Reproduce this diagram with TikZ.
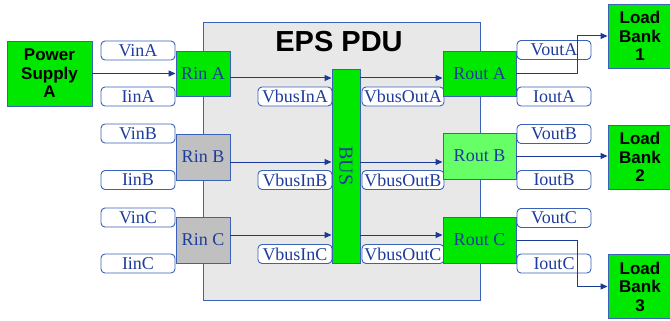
\documentclass[tikz,border=0pt]{standalone}
\usepackage{fontspec}
\setmainfont{Liberation Serif}
\newfontfamily\headfont{Liberation Sans}
\usetikzlibrary{arrows.meta}

\definecolor{pdugray}{HTML}{E8E8E8}
\definecolor{edgeblue}{HTML}{3A62B8}
\definecolor{textblue}{HTML}{1E3C9C}
\definecolor{wireblue}{HTML}{1A3A96}
\definecolor{boxgreen}{HTML}{00E800}
\definecolor{palegreen}{HTML}{66FF66}
\definecolor{boxgray}{HTML}{C0C0C0}

\begin{document}
\begin{tikzpicture}[x=1pt, y=-1pt,
  tag/.style={draw=edgeblue, fill=white, rounded corners=4pt, line width=0.9pt,
    minimum width=74pt, minimum height=19pt, inner sep=0pt, text=textblue,
    font=\fontsize{18}{18}\selectfont},
  rbox/.style={draw=edgeblue, fill=boxgreen, line width=0.9pt, inner sep=0pt,
    minimum height=46pt, text=textblue, font=\fontsize{18}{18}\selectfont},
  ext/.style={draw=edgeblue, fill=boxgreen, line width=0.9pt, inner sep=0pt,
    align=center, font=\headfont\bfseries\fontsize{17}{18.5}\selectfont},
  wire/.style={draw=wireblue, line width=1pt,
    -{Triangle[length=7pt, width=6pt]}}]

  \useasboundingbox (0,0) rectangle (670,321);

  % PDU enclosure
  \draw[edgeblue, fill=pdugray, line width=0.9pt] (203,22) rectangle (480,300);
  \node[font=\headfont\bfseries\fontsize{29}{30}\selectfont] (title) at (339,42) {EPS PDU};

  % source and loads
  \node[ext, minimum width=85pt, minimum height=65pt] (ps) at (49.5,73.5) {Power\\Supply\\A};
  \node[ext, minimum width=64pt, minimum height=64pt] (lb1) at (640,36) {Load\\Bank\\1};
  \node[ext, minimum width=64pt, minimum height=64pt] (lb2) at (640,157) {Load\\Bank\\2};
  \node[ext, minimum width=64pt, minimum height=64pt] (lb3) at (640,286.5) {Load\\Bank\\3};

  % input tags
  \node[tag] (vina) at (138,50.5) {VinA};
  \node[tag] (iina) at (138,96.5) {IinA};
  \node[tag] (vinb) at (138,133.5) {VinB};
  \node[tag] (iinb) at (138,180) {IinB};
  \node[tag] (vinc) at (138,217.5) {VinC};
  \node[tag] (iinc) at (138,263.5) {IinC};

  % bus tags
  \node[tag] (vbina) at (295,96.5) {VbusInA};
  \node[tag] (vbinb) at (295,180) {VbusInB};
  \node[tag] (vbinc) at (295,254) {VbusInC};
  \node[tag, minimum width=82pt] (vbouta) at (403,96.5) {VbusOutA};
  \node[tag, minimum width=82pt] (vboutb) at (403,180) {VbusOutB};
  \node[tag, minimum width=82pt] (vboutc) at (403,254) {VbusOutC};

  % output tags
  \node[tag] (vouta) at (554,50) {VoutA};
  \node[tag] (iouta) at (554,96.5) {IoutA};
  \node[tag] (voutb) at (554,134) {VoutB};
  \node[tag] (ioutb) at (554,180) {IoutB};
  \node[tag] (voutc) at (554,218) {VoutC};
  \node[tag] (ioutc) at (554,263.5) {IoutC};

  % regulators
  \node[rbox, minimum width=54pt, minimum height=45pt] (rina) at (203,73.5) {Rin A};
  \node[rbox, minimum width=54pt, fill=boxgray] (rinb) at (203,157) {Rin B};
  \node[rbox, minimum width=54pt, fill=boxgray] (rinc) at (203,240) {Rin C};
  \node[rbox, minimum width=73pt, minimum height=45pt] (routa) at (479.5,73.5) {Rout A};
  \node[rbox, minimum width=73pt, fill=palegreen] (routb) at (479.5,156) {Rout B};
  \node[rbox, minimum width=73pt] (routc) at (479.5,240) {Rout C};

  % bus bar
  \node[rbox, minimum width=28pt, minimum height=194pt,
    font=\fontsize{20}{20}\selectfont] (bus) at (346,166) {\rotatebox{-90}{BUS}};

  % power flow
  \coordinate (ina) at ([yshift=-4.5pt]rina.east);
  \coordinate (inb) at ([yshift=-5pt]rinb.east);
  \coordinate (inc) at ([yshift=5pt]rinc.east);
  \draw[wire] (ps.east) -- (rina.west);
  \draw[wire] (ina) -- (ina -| bus.west);
  \draw[wire] (inb) -- (inb -| bus.west);
  \draw[wire] (inc) -- (inc -| bus.west);
  \draw[wire] (ina -| bus.east) -- (ina -| routa.west);
  \draw[wire] (inb -| bus.east) -- (inb -| routb.west);
  \draw[wire] (inc -| bus.east) -- (inc -| routc.west);
  \draw[wire] (routa.east) -- ++(61,0) |- (lb1.west);
  \draw[wire] (routb.east) -- (routb.east -| lb2.west);
  \draw[wire] (routc.east) -- ++(61,0) |- (lb3.west);

\end{tikzpicture}
\end{document}
